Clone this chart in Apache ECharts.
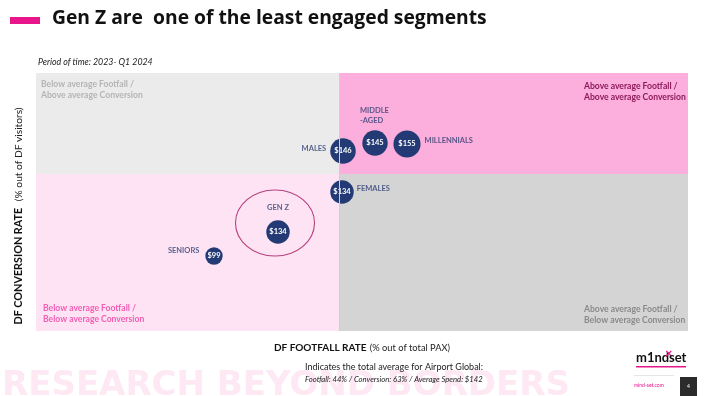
<!DOCTYPE html>
<html><head><meta charset="utf-8">
<script src="https://cdn.jsdelivr.net/npm/echarts@6/dist/echarts.min.js"></script>
<style>html,body{margin:0;padding:0;background:#fff}#c{width:710px;height:396px}</style>
</head><body><div id="c"></div>
<script>
// ---- data ----
const segments = ['MALES', 'MIDDLE-AGED', 'MILLENNIALS', 'FEMALES', 'GEN Z', 'SENIORS'];
const segmentLabels = ['MALES', 'MIDDLE\n-AGED', 'MILLENNIALS', 'FEMALES', 'GEN Z', 'SENIORS'];
const footfall   = [44.4, 47.6, 50.8, 44.3, 37.9, 31.5];   // DF footfall rate, %
const conversion = [65.3, 66.1, 66.0, 61.2, 57.2, 54.8];   // DF conversion rate, %
const spend      = [146, 145, 155, 134, 134, 99];          // average spend, $
const avgFootfall = 44, avgConversion = 63, avgSpend = 142;
const xRange = [13.7, 78.9], yRange = [47.3, 73.1];
const highlighted = 'GEN Z';
const quadrantTexts = [
  'Below average Footfall /\nAbove average Conversion',
  'Above average Footfall /\nAbove average Conversion',
  'Below average Footfall /\nBelow average Conversion',
  'Above average Footfall /\nBelow average Conversion'
];

// ---- styles ----
const FONT = 'Lato';
const navy = '#233a74';
const labelPlace = {
  'MALES':       {position: 'left',  distance: 4, offset: [0, -2]},
  'MIDDLE-AGED': {position: 'top',   distance: 5, align: 'left', offset: [-15, 0]},
  'MILLENNIALS': {position: 'right', distance: 4, offset: [0, -3]},
  'FEMALES':     {position: 'right', distance: 3, offset: [0, -3]},
  'GEN Z':       {position: 'top',   distance: 8, offset: [0, 0]},
  'SENIORS':     {position: 'left',  distance: 6, offset: [0, -5]}
};
const sizeOf = s => s * 0.175;

const points = segments.map((s, i) => ({name: s, value: [footfall[i], conversion[i], spend[i]]}));
const namePoints = segments.map((s, i) => {
  const p = labelPlace[s];
  return {name: s, value: [footfall[i], conversion[i], spend[i]],
    label: Object.assign({show: true, formatter: segmentLabels[i]}, p)};
});
const gi = segments.indexOf(highlighted);

const qLabel = (pos, color, off) => ({show: true, position: pos, color: color, fontFamily: FONT,
  fontSize: 8.6, fontWeight: 'bold', lineHeight: 11.5, offset: off});

const chart = echarts.init(document.getElementById('c'), null, {renderer: 'canvas'});
chart.setOption({
  animation: false,
  grid: {left: 36, right: 22, top: 73, bottom: 65},
  xAxis: {type: 'value', min: xRange[0], max: xRange[1],
    axisLine: {show: false}, axisTick: {show: false}, axisLabel: {show: false}, splitLine: {show: false},
    name: '{b|DF FOOTFALL RATE} {n|(% out of total PAX)}', nameLocation: 'middle', nameGap: 11,
    nameTextStyle: {rich: {b: {fontFamily: FONT, fontSize: 10, fontWeight: 'bold', color: '#111'},
                           n: {fontFamily: FONT, fontSize: 9.3, color: '#222'}}}},
  yAxis: {type: 'value', min: yRange[0], max: yRange[1],
    axisLine: {show: false}, axisTick: {show: false}, axisLabel: {show: false}, splitLine: {show: false},
    name: '{b|DF CONVERSION RATE}  {n|(% out of DF visitors)}', nameLocation: 'middle', nameGap: 11, nameRotate: 90,
    nameTextStyle: {padding: [0, 0, 0, -28],
      rich: {b: {fontFamily: FONT, fontSize: 10.8, fontWeight: 'bold', color: '#111'},
             n: {fontFamily: FONT, fontSize: 10.2, color: '#222'}}}},
  graphic: [
    {type: 'rect', left: 10, top: 17, shape: {width: 30, height: 7}, style: {fill: '#e8158b'}},
    {type: 'text', left: 52, top: 9, style: {text: 'Gen Z are  one of the least engaged segments',
      font: 'bold 19.3px "Open Sans"', fill: '#111'}},
    {type: 'text', left: 38, top: 58, style: {text: 'Period of time: 2023- Q1 2024',
      font: 'italic 8.8px ' + FONT, fill: '#222'}},
    {type: 'text', left: 2, top: 369, z: -10, style: {text: 'RESEARCH BEYOND BORDERS',
      font: 'bold 34px "DejaVu Sans"', fill: '#fde8f3'}},
    {type: 'text', left: 305, top: 363, style: {text: 'Indicates the total average for Airport Global:',
      font: '9px ' + FONT, fill: '#222'}},
    {type: 'text', left: 305, top: 376, style: {
      text: 'Footfall: ' + avgFootfall + '% / Conversion: ' + avgConversion + '% / Average Spend: $' + avgSpend,
      font: 'italic 7.7px ' + FONT, fill: '#222'}},
    {type: 'text', left: 636, top: 351, style: {text: 'm1nd', font: 'bold 13px ' + FONT, fill: '#111'}},
    {type: 'text', left: 665, top: 347, style: {text: '×', font: 'bold 13px ' + FONT, fill: '#e8158b'}},
    {type: 'text', left: 669, top: 351, style: {text: 'set', font: 'bold 13px ' + FONT, fill: '#111'}},
    {type: 'rect', left: 636, top: 366, shape: {width: 50, height: 1.5}, style: {fill: '#e8158b'}},
    {type: 'rect', left: 634, top: 375, shape: {width: 40, height: 0.8}, style: {fill: '#ddd'}},
    {type: 'text', left: 634, top: 383, style: {text: 'mind-set.com', font: '5px ' + FONT, fill: '#e8158b'}},
    {type: 'rect', left: 680, top: 377, shape: {width: 17, height: 19}, style: {fill: '#2b2b2b'}},
    {type: 'text', left: 687, top: 384, style: {text: '4', font: '5px ' + FONT, fill: '#fff'}}
  ],
  series: [
    {type: 'scatter', data: [], silent: true, z: 1,
      markArea: {silent: true, data: [
        [{xAxis: xRange[0], yAxis: avgConversion, itemStyle: {color: '#ebebeb'},
          label: qLabel('insideTopLeft', '#b4b4b4', [0, 0]), name: quadrantTexts[0]},
         {xAxis: avgFootfall, yAxis: yRange[1]}],
        [{xAxis: avgFootfall, yAxis: avgConversion, itemStyle: {color: '#fcaedc'},
          label: Object.assign(qLabel('insideTopLeft', '#8c1c5c', [0, 2]), {padding: [0, 0, 0, 240]}), name: quadrantTexts[1]},
         {xAxis: xRange[1], yAxis: yRange[1]}],
        [{xAxis: xRange[0], yAxis: yRange[0], itemStyle: {color: '#fee3f4'},
          label: Object.assign(qLabel('insideBottomLeft', '#f25fb3', [2, -1])), name: quadrantTexts[2]},
         {xAxis: avgFootfall, yAxis: avgConversion}],
        [{xAxis: avgFootfall, yAxis: yRange[0], itemStyle: {color: '#d4d4d4'},
          label: Object.assign(qLabel('insideBottomLeft', '#8a8a8a', [0, 0]), {padding: [0, 0, 0, 240]}), name: quadrantTexts[3]},
         {xAxis: xRange[1], yAxis: avgConversion}]
      ]}
    },
    {type: 'scatter', name: 'spend', z: 3, data: points,
      symbolSize: v => sizeOf(v[2]),
      itemStyle: {color: navy, opacity: 1},
      label: {show: true, position: 'inside', formatter: p => '$' + p.value[2],
        color: '#fff', fontFamily: FONT, fontWeight: 'bold', fontSize: 7.5,
        textBorderColor: 'rgba(35,58,116,0.6)', textBorderWidth: 1}
    },
    {type: 'scatter', name: 'names', z: 4, data: namePoints, silent: true,
      symbolSize: v => sizeOf(v[2]),
      itemStyle: {color: 'rgba(0,0,0,0)'},
      label: {color: '#2d3e72', fontFamily: FONT, fontWeight: 'bold', fontSize: 7.5, lineHeight: 10}
    },
    {type: 'scatter', name: 'highlight', z: 5, silent: true,
      data: [[footfall[gi], conversion[gi]]],
      symbol: 'path://M50,0A50,50,0,1,1,50,100A50,50,0,1,1,50,0Z',
      symbolSize: [79, 66], symbolOffset: [-3, -9],
      itemStyle: {color: 'rgba(0,0,0,0)', borderColor: '#a2195f', borderWidth: 1}
    },
    {type: 'scatter', name: 'avg', z: 6, data: [], silent: true,
      markLine: {silent: true, symbol: 'none', label: {show: false},
        lineStyle: {color: '#cfcfcf', width: 1, type: 'solid'},
        data: [{xAxis: avgFootfall}]}
    }
  ]
});
</script></body></html>
